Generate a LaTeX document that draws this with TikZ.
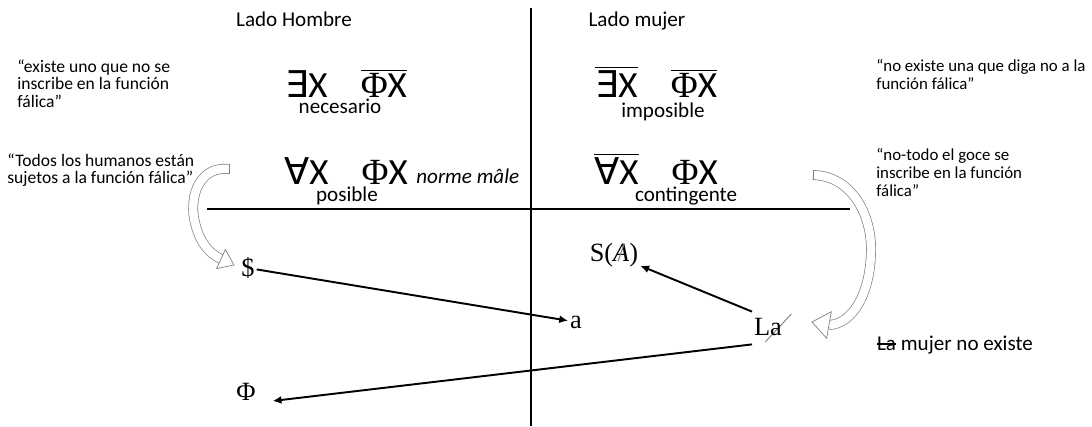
\documentclass[tikz,border=0pt]{standalone}
\usepackage{fontspec}
\setmainfont{Carlito}
\newfontfamily\serifo{Liberation Serif}
\newfontfamily\simbolo{DejaVu Sans}
\usetikzlibrary{positioning,calc,arrows.meta}

\newsavebox\cajatachada
\newcommand\barra[1]{$\overline{\hbox{#1}}$}
\newcommand\Ex{{\simbolo ∃}X}
\newcommand\Ax{{\simbolo ∀}X}
\newcommand\Fx{{\serifo Φ}X}
\newcommand\tachar[1]{\ooalign{#1\cr\hidewidth{\color{gray}/}\hidewidth}}
\newcommand\tacharlargo[1]{\rlap{\kern-0.2em\raisebox{-0.25em}{\color{gray}\rotatebox{47}{\rule{1.45em}{0.035em}}}}#1}
\newcommand\tachadoh[1]{\sbox\cajatachada{#1}\rlap{\rule[0.28em]{\wd\cajatachada}{0.07em}}\usebox\cajatachada}

\begin{document}
\begin{tikzpicture}[
    x=0.02cm,
    y=-0.02cm,
    >={Latex[length=5pt,width=4.5pt]},
    titulo/.style={
        font=\fontsize{12}{14}\selectfont,
        inner sep=0pt
    },
    cita/.style={
        align=left,
        anchor=north west,
        inner sep=0pt,
        font=\fontsize{10}{10.2}\selectfont
    },
    formula/.style={
        font=\fontsize{21}{22}\selectfont,
        anchor=base,
        inner sep=0pt
    },
    modal/.style={
        font=\fontsize{12}{14}\selectfont,
        anchor=base,
        inner sep=0pt
    },
    letra/.style={
        font=\serifo\fontsize{15}{17}\selectfont,
        inner sep=1pt
    },
    eje/.style={
        line width=1.3pt
    },
    flecha/.style={
        ->,
        line width=1.1pt
    },
    bloque/.style={
        draw=gray,
        line width=0.4pt,
        double=white,
        double distance=0.17cm
    },
    punta/.style={
        draw=gray,
        line width=0.4pt,
        fill=white
    }
]

\useasboundingbox (0,0) rectangle (1092,426);

%%%%%%%%%%%%%%%%%%%%%%%%%%%%%%%%%%%%%%%%%%%%%%%%%%%%
%% Ejes
%%%%%%%%%%%%%%%%%%%%%%%%%%%%%%%%%%%%%%%%%%%%%%%%%%%%

\coordinate (ejearriba) at (531,8);
\coordinate (ejeabajo)  at (531,426);
\coordinate (ejeizq)    at (207,209);
\coordinate (ejeder)    at (850,209);

\draw[eje] (ejearriba) -- (ejeabajo);
\draw[eje] (ejeizq) -- (ejeder);

%%%%%%%%%%%%%%%%%%%%%%%%%%%%%%%%%%%%%%%%%%%%%%%%%%%%
%% Titulos
%%%%%%%%%%%%%%%%%%%%%%%%%%%%%%%%%%%%%%%%%%%%%%%%%%%%

\node[titulo,anchor=base] (hombre) at (294,27) {Lado Hombre};
\node[titulo,anchor=base] (mujer) at (637,27) {Lado mujer};

%%%%%%%%%%%%%%%%%%%%%%%%%%%%%%%%%%%%%%%%%%%%%%%%%%%%
%% Formulas de la sexuacion
%%%%%%%%%%%%%%%%%%%%%%%%%%%%%%%%%%%%%%%%%%%%%%%%%%%%

\node[formula] (fnec) at (346,97) {\Ex\hspace{0.9em}\barra{\Fx}};
\node[formula] (fimp) at (656,97) {\barra{\Ex}\hspace{0.9em}\barra{\Fx}};
\node[formula] (fpos) at (346,184) {\Ax\hspace{0.9em}\Fx};
\node[formula] (fcon) at (656,184) {\barra{\Ax}\hspace{0.9em}\Fx};

\node[modal] (nec) at (340,113) {necesario};
\node[modal] (imp) at (663,117) {imposible};
\node[modal] (pos) at (347,201) {posible};
\node[modal] (con) at (686,201) {contingente};

\node[modal,anchor=base west,font=\itshape\fontsize{12}{14}\selectfont]
    (norme) at (416,183) {norme mâle};

%%%%%%%%%%%%%%%%%%%%%%%%%%%%%%%%%%%%%%%%%%%%%%%%%%%%
%% Citas
%%%%%%%%%%%%%%%%%%%%%%%%%%%%%%%%%%%%%%%%%%%%%%%%%%%%

\node[cita] (cnec) at (17,59)
{“existe uno que no se\\inscribe en la función\\fálica”};

\node[cita] (cpos) at (7,153)
{“Todos los humanos están\\sujetos a la función fálica”};

\node[cita,font=\fontsize{9.6}{10.2}\selectfont] (cimp) at (876,59)
{“no existe una que diga no a la\\función fálica”};

\node[cita,font=\fontsize{9.6}{10.2}\selectfont] (ccon) at (876,148)
{“no-todo el goce se\\inscribe en la función\\fálica”};

%%%%%%%%%%%%%%%%%%%%%%%%%%%%%%%%%%%%%%%%%%%%%%%%%%%%
%% Matemas
%%%%%%%%%%%%%%%%%%%%%%%%%%%%%%%%%%%%%%%%%%%%%%%%%%%%

\node[letra] (sujeto) at (248,268) {\$};
\node[letra] (objeto) at (576,322) {a};
\node[letra] (falo) at (246,392) {Φ};
\node[letra] (sabarrado) at (614,255) {S(\tachar{\textit{A}})};
\node[letra] (la) at (768,328) {L\tacharlargo{a}};

\node[titulo] (noexiste) at (955,345) {\tachadoh{La} mujer no existe};

%%%%%%%%%%%%%%%%%%%%%%%%%%%%%%%%%%%%%%%%%%%%%%%%%%%%
%% Flechas
%%%%%%%%%%%%%%%%%%%%%%%%%%%%%%%%%%%%%%%%%%%%%%%%%%%%

\draw[flecha] (sujeto) -- (objeto);
\draw[flecha] (la.north west) -- (sabarrado);
\draw[flecha,shorten >=0.3cm] (la.south west) -- (falo.south east);

%%%%%%%%%%%%%%%%%%%%%%%%%%%%%%%%%%%%%%%%%%%%%%%%%%%%
%% Flechas de bloque
%%%%%%%%%%%%%%%%%%%%%%%%%%%%%%%%%%%%%%%%%%%%%%%%%%%%

\coordinate (colaizq) at (229,169);
\coordinate (baseizq) at (221,259);
\coordinate (puntaizq) at (234,265);

\draw[bloque] (colaizq) .. controls (200,166) and (190,195) .. (194,218)
    .. controls (198,240) and (208,253) .. (baseizq);
\draw[gray,line width=0.4pt] (229,164) -- (229,174);
\draw[punta] ($(baseizq)!0.21cm!90:(puntaizq)$) -- (puntaizq)
    -- ($(baseizq)!0.21cm!-90:(puntaizq)$) -- cycle;

\coordinate (colader) at (813,175);
\coordinate (baseder) at (829,325);
\coordinate (puntader) at (812,322);

\draw[bloque] (colader) .. controls (852,176) and (872,215) .. (871,252)
    .. controls (870,295) and (852,324) .. (baseder);
\draw[gray,line width=0.4pt] (813,170) -- (813,180);
\draw[punta] ($(baseder)!0.27cm!90:(puntader)$) -- (puntader)
    -- ($(baseder)!0.27cm!-90:(puntader)$) -- cycle;

\end{tikzpicture}
\end{document}
